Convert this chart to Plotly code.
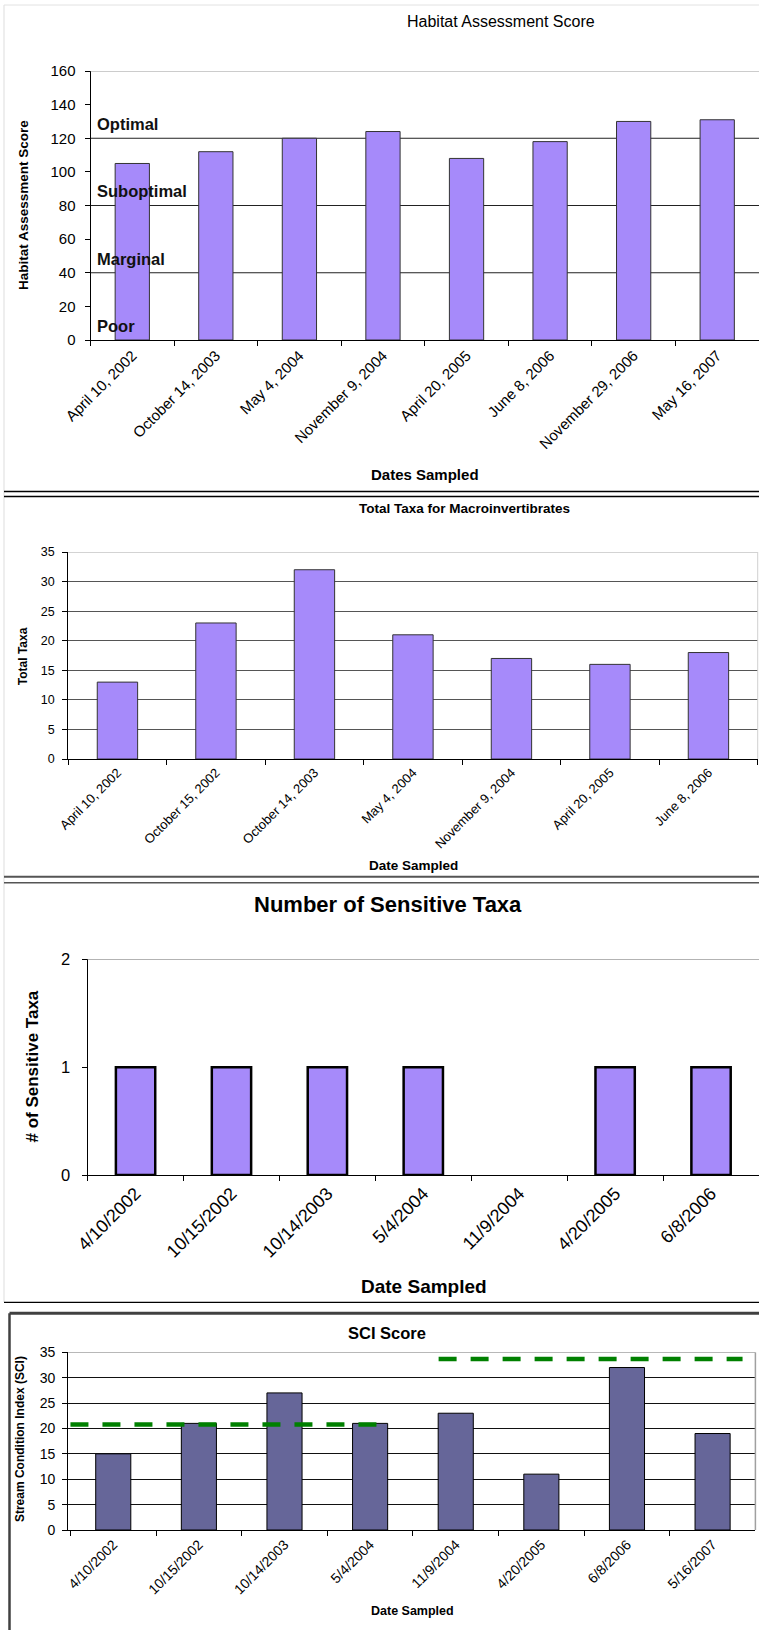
import plotly.graph_objects as go

W, H = 759, 1630
FONT = "Liberation Sans, Arial, sans-serif"
LAVENDER = "#a68afa"
SLATE = "#666699"
TARGET_GREEN = "#008000"

# ---- Habitat assessment ----
habitat_dates = ["April 10, 2002", "October 14, 2003", "May 4, 2004", "November 9, 2004",
                 "April 20, 2005", "June 8, 2006", "November 29, 2006", "May 16, 2007"]
habitat_scores = [105, 112, 120, 124, 108, 118, 130, 131]
habitat_ticks = [0, 20, 40, 60, 80, 100, 120, 140, 160]
habitat_zone_names = ["Poor", "Marginal", "Suboptimal", "Optimal"]
habitat_zone_floors = [0, 40, 80, 120]

# ---- Total taxa ----
taxa_dates = ["April 10, 2002", "October 15, 2002", "October 14, 2003", "May 4, 2004",
              "November 9, 2004", "April 20, 2005", "June 8, 2006"]
taxa_totals = [13, 23, 32, 21, 17, 16, 18]
taxa_ticks = [0, 5, 10, 15, 20, 25, 30, 35]

# ---- Sensitive taxa ----
sensitive_dates = ["4/10/2002", "10/15/2002", "10/14/2003", "5/4/2004",
                   "11/9/2004", "4/20/2005", "6/8/2006"]
sensitive_counts = [1, 1, 1, 1, 0, 1, 1]
sensitive_ticks = [0, 1, 2]

# ---- SCI ----
sci_dates = ["4/10/2002", "10/15/2002", "10/14/2003", "5/4/2004",
             "11/9/2004", "4/20/2005", "6/8/2006", "5/16/2007"]
sci_scores = [15, 21, 27, 21, 23, 11, 32, 19]
sci_ticks = [0, 5, 10, 15, 20, 25, 30, 35]
sci_target_levels = [20.8, 33.7]
sci_target_start = [-0.5, 3.8]   # category-index span of each target line
sci_target_end = [3.2, 7.35]


def px(x):
    return x / W


def py(y):
    return 1 - y / H


fig = go.Figure()

fig.add_trace(go.Bar(x=habitat_dates, y=habitat_scores, xaxis="x", yaxis="y",
                     marker=dict(color=LAVENDER, line=dict(color="#333333", width=1))))
fig.add_trace(go.Bar(x=taxa_dates, y=taxa_totals, xaxis="x2", yaxis="y2",
                     marker=dict(color=LAVENDER, line=dict(color="#333333", width=1))))
# empty samples get no outline so nothing is stroked along the axis
fig.add_trace(go.Bar(x=sensitive_dates, y=sensitive_counts, xaxis="x3", yaxis="y3",
                     marker=dict(color=LAVENDER,
                                 line=dict(color="#000000",
                                           width=[2.5 if v > 0 else 0 for v in sensitive_counts]))))
fig.add_trace(go.Bar(x=sci_dates, y=sci_scores, xaxis="x4", yaxis="y4",
                     marker=dict(color=SLATE, line=dict(color="#000000", width=1))))


def xaxis(domain, anchor, size):
    return dict(domain=domain, anchor=anchor, type="category", tickson="boundaries",
                ticks="outside", ticklen=5, tickcolor="black", showline=True,
                linecolor="black", linewidth=1, tickangle=-45, showgrid=False,
                zeroline=False, tickfont=dict(family=FONT, size=size, color="black"))


def yaxis(domain, anchor, rng, ticks, size, standoff, grid=False, gridcolor="#333"):
    return dict(domain=domain, anchor=anchor, range=rng, tickvals=ticks, ticks="outside",
                ticklen=5, tickcolor="black", showline=True, linecolor="black", linewidth=1,
                showgrid=grid, gridcolor=gridcolor, gridwidth=1, zeroline=False,
                ticklabelstandoff=standoff,
                tickfont=dict(family=FONT, size=size, color="black"))


layout = dict(
    width=W, height=H, margin=dict(l=0, r=0, t=0, b=0), template="none",
    paper_bgcolor="white", plot_bgcolor="rgba(0,0,0,0)", showlegend=False,
    bargap=0.59, font=dict(family=FONT, color="black"),
    xaxis=xaxis([px(90.5), 1.0], "y", 15),
    yaxis=yaxis([py(340), py(71)], "x", [0, 160], habitat_ticks, 15, 6),
    xaxis2=xaxis([px(68.2), px(757.7)], "y2", 13),
    yaxis2=yaxis([py(759), py(552)], "x2", [0, 35], taxa_ticks, 12.5, 5, True, "#555555"),
    xaxis3=xaxis([px(87.6), 1.0], "y3", 18),
    yaxis3=yaxis([py(1175), py(959.3)], "x3", [0, 2], sensitive_ticks, 16.5, 8),
    xaxis4=xaxis([px(68.2), px(755.4)], "y4", 14),
    yaxis4=yaxis([py(1530), py(1352.3)], "x4", [0, 35], sci_ticks, 14, 4, True, "#111111"),
)
fig.update_layout(**layout)

shapes = []
annotations = []


def ann(text, x, y, size, bold=True, angle=0, **kw):
    annotations.append(dict(text=f"<b>{text}</b>" if bold else text, x=px(x), y=py(y),
                            xref="paper", yref="paper", showarrow=False, textangle=angle,
                            xanchor="center", yanchor="middle",
                            font=dict(family=FONT, size=size, color="black"), **kw))


def page_line(y, x0, x1, color, width):
    shapes.append(dict(type="line", xref="paper", yref="paper", x0=px(x0), x1=px(x1),
                       y0=py(y), y1=py(y), line=dict(color=color, width=width)))


# page frame and rules between the charts
shapes.append(dict(type="line", xref="paper", yref="paper", x0=px(4), x1=px(4),
                   y0=py(5), y1=py(1302), line=dict(color="#dddddd", width=1)))
page_line(5, 4, 759, "#e2e2e2", 1)
page_line(491.5, 4, 759, "black", 1.5)
page_line(496.5, 4, 759, "black", 1.5)
page_line(876.7, 4, 759, "#555555", 2)
page_line(882.7, 4, 759, "#555555", 1.5)
page_line(1302.3, 4, 759, "black", 1.2)
page_line(1313.3, 9.5, 759, "#404040", 3)
shapes.append(dict(type="line", xref="paper", yref="paper", x0=px(9.5), x1=px(9.5),
                   y0=py(1313.3), y1=0, line=dict(color="#404040", width=2.5)))

# habitat chart: zone boundaries, top border and zone names
for floor, name in zip(habitat_zone_floors, habitat_zone_names):
    if floor > 0:
        shapes.append(dict(type="line", xref="x domain", yref="y", x0=0, x1=1,
                           y0=floor, y1=floor, layer="below",
                           line=dict(color="#222222", width=1)))
    annotations.append(dict(text=f"<b>{name}</b>", xref="paper", yref="y", x=px(95),
                            y=floor, yshift=14, xanchor="left", yanchor="middle",
                            showarrow=False, font=dict(family=FONT, size=16.5, color="#111")))
shapes.append(dict(type="line", xref="x domain", yref="y", x0=0, x1=1,
                   y0=habitat_ticks[-1], y1=habitat_ticks[-1],
                   line=dict(color="#999999", width=1)))

# total taxa: lighter top border
shapes.append(dict(type="line", xref="x2 domain", yref="y2", x0=0, x1=1,
                   y0=taxa_ticks[-1], y1=taxa_ticks[-1], line=dict(color="#c4c4c4", width=1.5)))
shapes.append(dict(type="line", xref="x2 domain", yref="y2", x0=1, x1=1,
                   y0=0, y1=taxa_ticks[-1], line=dict(color="#d0d0d0", width=1)))

# sensitive taxa: top border
shapes.append(dict(type="line", xref="x3 domain", yref="y3", x0=0, x1=1,
                   y0=sensitive_ticks[-1], y1=sensitive_ticks[-1],
                   line=dict(color="#9a9a9a", width=1.5)))

# SCI: top/right border and dashed target lines
shapes.append(dict(type="line", xref="x4 domain", yref="y4", x0=0, x1=1,
                   y0=sci_ticks[-1], y1=sci_ticks[-1], line=dict(color="#a0a0a0", width=1.5)))
shapes.append(dict(type="line", xref="x4 domain", yref="y4", x0=1, x1=1,
                   y0=0, y1=sci_ticks[-1], line=dict(color="#a0a0a0", width=1.5)))
for level, x0, x1 in zip(sci_target_levels, sci_target_start, sci_target_end):
    shapes.append(dict(type="line", xref="x4", yref="y4", x0=x0, x1=x1, y0=level, y1=level,
                       layer="above", line=dict(color=TARGET_GREEN, width=4.5, dash="18px,14px")))

# titles
ann("Habitat Assessment Score", 501, 21, 16, bold=False)
ann("Habitat Assessment Score", 24, 205, 13.5, angle=-90)
ann("Dates Sampled", 425, 474, 15)

ann("Total Taxa for Macroinvertibrates", 464.5, 509, 13.5)
ann("Total Taxa", 23.2, 656, 12, angle=-90)
ann("Date Sampled", 413, 865, 13.5)

ann("Number of Sensitive Taxa", 387.7, 904, 22)
ann("# of Sensitive Taxa", 31.5, 1067, 17, angle=-90)
ann("Date Sampled", 424, 1286.7, 19)

ann("SCI Score", 387, 1333, 16.5)
ann("Stream Condition Index (SCI)", 19.4, 1438.7, 12, angle=-90)
ann("Date Sampled", 412, 1610.7, 12.5)

fig.update_layout(shapes=shapes, annotations=annotations)
fig.write_html("out.html")
